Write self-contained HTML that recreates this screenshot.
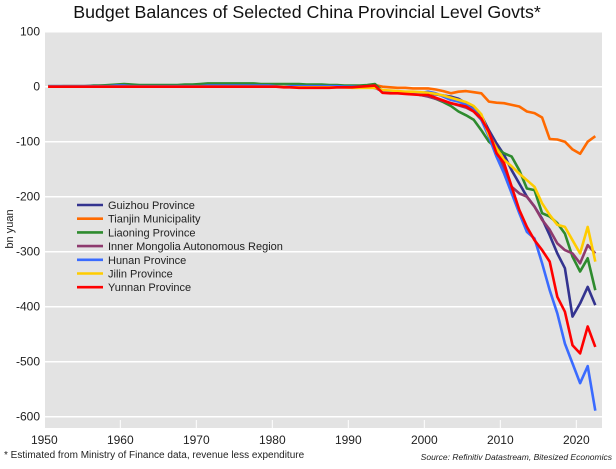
<!DOCTYPE html>
<html><head><meta charset="utf-8">
<style>
body{margin:0;background:#fff;font-family:"Liberation Sans",sans-serif;}
svg text{font-family:"Liberation Sans",sans-serif;}
</style></head>
<body>
<svg width="616" height="464">
<text x="307" y="18" text-anchor="middle" font-size="17.8" fill="#111">Budget Balances of Selected China Provincial Level Govts*</text>
<rect x="45" y="31" width="557" height="397" fill="#e3e3e3"/>
<g id="grid"></g>
<g id="axes"></g>
<g id="series"></g>
<g id="legend"></g>
<text transform="translate(13,229) rotate(-90)" text-anchor="middle" font-size="11" fill="#222">bn yuan</text>
<text x="4" y="458" font-size="10" fill="#222">* Estimated from Ministry of Finance data, revenue less expenditure</text>
<text x="612" y="460" text-anchor="end" font-size="8.5" font-style="italic" fill="#222">Source: Refinitiv Datastream, Bitesized Economics</text>
</svg>
<script>
const seriesNames=["Guizhou Province","Tianjin Municipality","Liaoning Province","Inner Mongolia Autonomous Region","Hunan Province","Jilin Province","Yunnan Province"];
const seriesColors=["#33338f","#ff6a00","#2e8b2e","#8e3a6e","#3a6bff","#ffcc00","#ff0000"];
const yTicks=[100,0,-100,-200,-300,-400,-500,-600];
const xTicks=[1950,1960,1970,1980,1990,2000,2010,2020];
const startYear=1950;
// 1950-1993
const guizhouEarly=[0,0,0,0,0,1,1,1,1,1,0,0,0,1,1,1,1,1,1,1,1,1,1,1,1,1,1,1,1,1,1,1,1,1,1,1,0,0,0,0,0,0,-1,-2];
const tianjinEarly=[0,0,1,1,1,1,1,2,2,2,2,1,1,1,1,1,1,1,1,2,2,2,2,2,2,2,2,2,2,2,2,2,2,1,1,1,1,1,1,1,1,1,2,3];
const liaoningEarly=[1,1,1,1,1,1,2,2,3,4,5,4,3,3,3,3,3,3,4,4,5,6,6,6,6,6,6,6,5,5,5,5,5,5,4,4,4,3,3,2,2,2,3,5];
const mongoliaEarly=[0,0,0,0,0,0,0,0,0,0,0,0,0,0,0,0,0,0,0,0,0,0,0,0,0,0,0,0,0,0,0,0,-1,-1,-1,-1,-1,-1,-1,-1,-1,-1,-1,-2];
const hunanEarly=[1,1,1,1,1,1,1,1,1,2,2,1,1,1,1,1,1,1,1,1,1,2,2,2,2,2,2,2,2,2,1,1,1,1,1,1,1,1,1,0,0,0,0,1];
const jilinEarly=[0,0,0,0,0,0,0,0,0,0,0,0,0,0,0,0,0,0,0,0,0,0,0,0,0,0,0,0,0,0,0,0,-1,-1,-1,-1,-1,-1,-1,-1,-2,-2,-2,-2];
const yunnanEarly=[0,0,0,0,0,0,0,0,0,0,0,0,0,0,0,0,0,0,0,0,0,0,0,0,0,0,0,0,0,0,0,-1,-1,-2,-2,-2,-2,-2,-1,-1,-1,0,1,2];
// 1994-2022
const guizhouLate=[-8,-9,-10,-11,-12,-13,-12,-14,-16,-18,-22,-30,-36,-52,-79,-103,-124,-152,-176,-200,-218,-240,-270,-303,-330,-418,-394,-364,-397];
const tianjinLate=[0,-1,-2,-2,-3,-3,-3,-5,-8,-12,-9,-8,-10,-12,-27,-29,-30,-33,-36,-45,-48,-56,-95,-96,-100,-114,-122,-100,-90];
const liaoningLate=[-8,-10,-11,-12,-13,-15,-17,-22,-28,-35,-45,-52,-60,-79,-100,-112,-121,-127,-152,-185,-188,-230,-236,-248,-267,-309,-336,-312,-370];
const mongoliaLate=[-8,-9,-10,-11,-13,-15,-18,-22,-26,-30,-34,-38,-45,-60,-85,-110,-152,-182,-194,-200,-218,-242,-260,-285,-297,-303,-321,-288,-303];
const hunanLate=[-9,-8,-9,-10,-11,-12,-9,-12,-18,-24,-27,-33,-42,-60,-91,-127,-158,-194,-230,-264,-276,-321,-370,-412,-467,-503,-539,-508,-589];
const jilinLate=[-6,-7,-8,-9,-9,-10,-11,-13,-16,-20,-24,-28,-35,-50,-88,-112,-133,-145,-158,-170,-182,-212,-233,-251,-255,-279,-303,-255,-318];
const yunnanLate=[-11,-12,-12,-13,-14,-15,-15,-20,-25,-30,-33,-36,-45,-58,-82,-121,-139,-182,-224,-255,-279,-297,-318,-382,-409,-470,-485,-436,-473];
const seriesValues=[guizhouEarly.concat(guizhouLate),tianjinEarly.concat(tianjinLate),liaoningEarly.concat(liaoningLate),mongoliaEarly.concat(mongoliaLate),hunanEarly.concat(hunanLate),jilinEarly.concat(jilinLate),yunnanEarly.concat(yunnanLate)];

const NS="http://www.w3.org/2000/svg";
function xScale(year){return 44.3+(year-1950)*7.6;}
function yScale(v){return 86.7-v*0.55;}
function mk(tag,attrs,parent){const e=document.createElementNS(NS,tag);for(const k in attrs)e.setAttribute(k,attrs[k]);parent.appendChild(e);return e;}
const grid=document.getElementById('grid'),axes=document.getElementById('axes'),ser=document.getElementById('series'),leg=document.getElementById('legend');
yTicks.forEach(t=>{
  const l=mk('line',{x1:45,x2:602,y1:yScale(t),y2:yScale(t),stroke:'#fff','stroke-width':1.5},grid);
  
  
  const tx=mk('text',{x:40,y:yScale(t)+4,'text-anchor':'end','font-size':12,fill:'#222'},axes);
  tx.textContent=t;
  
  
});
xTicks.forEach(t=>{
  const x=xScale(t);
  const l=mk('line',{x1:x,x2:x,y1:420,y2:428,stroke:'#fff','stroke-width':1},grid);
  
  
  const tx=mk('text',{x:x,y:444,'text-anchor':'middle','font-size':12,fill:'#222'},axes);
  tx.textContent=t;
  
  
});
seriesValues.forEach((vals,i)=>{
  const pts=vals.map((v,j)=>(xScale(startYear+j+0.5)).toFixed(1)+','+yScale(v).toFixed(1)).join(' ');
  const p=mk('polyline',{points:pts,fill:'none',stroke:seriesColors[i],'stroke-width':2.6,'stroke-linejoin':'round'},ser);
  
  
});
seriesNames.forEach((n,i)=>{
  const y=205+i*13.7;
  const l=mk('line',{x1:77,x2:103,y1:y,y2:y,stroke:seriesColors[i],'stroke-width':2.6},leg);
  
  
  const t=mk('text',{x:108,y:y+4,'font-size':11,fill:'#222'},leg);
  t.textContent=n;
  
  
});
</script>
</body></html>
